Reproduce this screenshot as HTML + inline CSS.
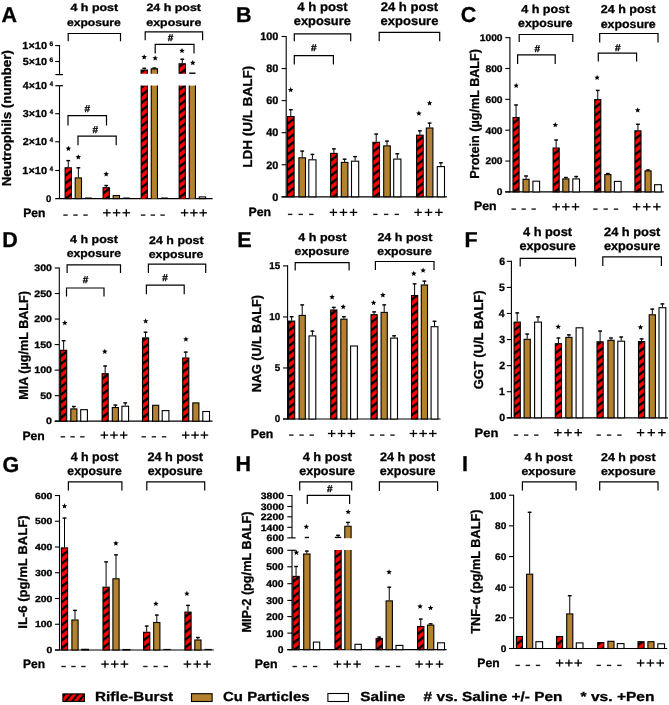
<!DOCTYPE html><html><head><meta charset="utf-8"><style>html,body{margin:0;padding:0;background:#fff;overflow:hidden}svg{display:block;filter:blur(0.4px)}text{font-family:"Liberation Sans",sans-serif;stroke:#000;stroke-width:0.3px;text-rendering:geometricPrecision}</style></head><body><svg width="669" height="705" viewBox="0 0 669 705" font-family="Liberation Sans, sans-serif">
<defs><pattern id="stripe" patternUnits="userSpaceOnUse" width="10" height="6.15" patternTransform="rotate(-37)"><rect width="10" height="6.15" fill="#ff0000"/><rect width="10" height="2.4" fill="#000"/></pattern><pattern id="stripeL" patternUnits="userSpaceOnUse" width="10" height="5.0" patternTransform="rotate(-50)"><rect width="10" height="5" fill="#ff0000"/><rect width="10" height="2.0" fill="#000"/></pattern></defs>
<rect width="669" height="705" fill="#fff"/>
<text x="1.61" y="22.40" font-size="21.5" font-weight="bold">A</text>
<text x="70.46" y="11.30" font-size="10.60" font-weight="bold" textLength="47.74" lengthAdjust="spacingAndGlyphs">4 h post</text>
<text x="66.98" y="25.60" font-size="10.60" font-weight="bold" textLength="53.79" lengthAdjust="spacingAndGlyphs">exposure</text>
<text x="146.42" y="11.30" font-size="10.60" font-weight="bold" textLength="54.58" lengthAdjust="spacingAndGlyphs">24 h post</text>
<text x="146.37" y="25.60" font-size="10.60" font-weight="bold" textLength="54.90" lengthAdjust="spacingAndGlyphs">exposure</text>
<path d="M68.20 41.30V33.50H120.50V41.30" fill="none" stroke="#000" stroke-width="1.2"/>
<path d="M145.20 40.30V31.90H202.60V40.30" fill="none" stroke="#000" stroke-width="1.2"/>
<path d="M155.20 53.40V44.40H194.00V53.40" fill="none" stroke="#000" stroke-width="1.2"/>
<path d="M68.00 125.50V115.70H106.50V125.50" fill="none" stroke="#000" stroke-width="1.2"/>
<path d="M78.00 145.20V136.20H116.20V145.20" fill="none" stroke="#000" stroke-width="1.2"/>
<text x="170.50" y="41.30" font-size="10.0" font-weight="bold" text-anchor="middle">#</text>
<text x="87.20" y="111.70" font-size="10.0" font-weight="bold" text-anchor="middle">#</text>
<text x="95.20" y="132.60" font-size="10.0" font-weight="bold" text-anchor="middle">#</text>
<line x1="59.50" y1="45.10" x2="59.50" y2="74.60" stroke="#000" stroke-width="1.1"/>
<line x1="55.20" y1="45.60" x2="59.50" y2="45.60" stroke="#000" stroke-width="1.1"/>
<line x1="55.20" y1="61.50" x2="59.50" y2="61.50" stroke="#000" stroke-width="1.1"/>
<line x1="55.40" y1="74.60" x2="63.00" y2="74.60" stroke="#000" stroke-width="1.2"/>
<line x1="59.50" y1="85.70" x2="59.50" y2="198.60" stroke="#000" stroke-width="1.1"/>
<line x1="55.40" y1="85.70" x2="63.00" y2="85.70" stroke="#000" stroke-width="1.2"/>
<line x1="55.20" y1="113.70" x2="59.50" y2="113.70" stroke="#000" stroke-width="1.1"/>
<line x1="55.20" y1="141.80" x2="59.50" y2="141.80" stroke="#000" stroke-width="1.1"/>
<line x1="55.20" y1="170.50" x2="59.50" y2="170.50" stroke="#000" stroke-width="1.1"/>
<line x1="55.20" y1="198.60" x2="212.60" y2="198.60" stroke="#000" stroke-width="1.2"/>
<text x="22.36" y="49.00" font-size="10.20" font-weight="bold" textLength="24.64" lengthAdjust="spacingAndGlyphs">1×10</text>
<text x="49.61" y="45.90" font-size="6.60" font-weight="bold" textLength="3.68" lengthAdjust="spacingAndGlyphs">6</text>
<text x="22.72" y="64.90" font-size="10.20" font-weight="bold" textLength="24.27" lengthAdjust="spacingAndGlyphs">5×10</text>
<text x="49.61" y="61.80" font-size="6.60" font-weight="bold" textLength="3.68" lengthAdjust="spacingAndGlyphs">6</text>
<text x="22.89" y="89.10" font-size="10.20" font-weight="bold" textLength="24.10" lengthAdjust="spacingAndGlyphs">4×10</text>
<text x="49.76" y="86.00" font-size="6.60" font-weight="bold" textLength="3.32" lengthAdjust="spacingAndGlyphs">4</text>
<text x="22.80" y="117.10" font-size="10.20" font-weight="bold" textLength="24.19" lengthAdjust="spacingAndGlyphs">3×10</text>
<text x="49.76" y="114.00" font-size="6.60" font-weight="bold" textLength="3.32" lengthAdjust="spacingAndGlyphs">4</text>
<text x="22.68" y="145.20" font-size="10.20" font-weight="bold" textLength="24.32" lengthAdjust="spacingAndGlyphs">2×10</text>
<text x="49.76" y="142.10" font-size="6.60" font-weight="bold" textLength="3.32" lengthAdjust="spacingAndGlyphs">4</text>
<text x="22.36" y="173.90" font-size="10.20" font-weight="bold" textLength="24.64" lengthAdjust="spacingAndGlyphs">1×10</text>
<text x="49.76" y="170.80" font-size="6.60" font-weight="bold" textLength="3.32" lengthAdjust="spacingAndGlyphs">4</text>
<text x="45.90" y="201.80" font-size="9.60" font-weight="bold" textLength="5.34" lengthAdjust="spacingAndGlyphs">0</text>
<text transform="translate(11.09,186.35) rotate(-90)" x="0" y="0" font-size="13.00" font-weight="bold" textLength="136.26" lengthAdjust="spacingAndGlyphs">Neutrophils (number)</text>
<line x1="68.25" y1="160.10" x2="68.25" y2="167.30" stroke="#000" stroke-width="1.0"/>
<line x1="66.35" y1="160.60" x2="70.15" y2="160.60" stroke="#000" stroke-width="1.4"/>
<rect x="65.10" y="167.80" width="6.30" height="30.80" fill="url(#stripe)" stroke="#000" stroke-width="1.1"/>
<line x1="78.35" y1="167.30" x2="78.35" y2="177.40" stroke="#000" stroke-width="1.0"/>
<line x1="76.45" y1="167.80" x2="80.25" y2="167.80" stroke="#000" stroke-width="1.4"/>
<rect x="75.20" y="177.90" width="6.30" height="20.70" fill="#b4822e" stroke="#000" stroke-width="1.1"/>
<line x1="85.10" y1="198.10" x2="91.80" y2="198.10" stroke="#000" stroke-width="1.2"/>
<line x1="106.25" y1="185.00" x2="106.25" y2="187.20" stroke="#000" stroke-width="1.0"/>
<line x1="104.35" y1="185.50" x2="108.15" y2="185.50" stroke="#000" stroke-width="1.4"/>
<rect x="103.10" y="187.70" width="6.30" height="10.90" fill="url(#stripe)" stroke="#000" stroke-width="1.1"/>
<rect x="113.20" y="195.50" width="6.30" height="3.10" fill="#b4822e" stroke="#000" stroke-width="1.1"/>
<line x1="123.10" y1="198.10" x2="129.80" y2="198.10" stroke="#000" stroke-width="1.2"/>
<rect x="141.10" y="85.60" width="6.30" height="113.00" fill="url(#stripe)"/>
<line x1="141.15" y1="85.60" x2="141.15" y2="198.60" stroke="#000" stroke-width="1.1"/>
<line x1="147.35" y1="85.60" x2="147.35" y2="198.60" stroke="#000" stroke-width="1.1"/>
<rect x="151.20" y="85.60" width="6.30" height="113.00" fill="#b4822e"/>
<line x1="151.25" y1="85.60" x2="151.25" y2="198.60" stroke="#000" stroke-width="1.1"/>
<line x1="157.45" y1="85.60" x2="157.45" y2="198.60" stroke="#000" stroke-width="1.1"/>
<rect x="179.10" y="85.60" width="6.30" height="113.00" fill="url(#stripe)"/>
<line x1="179.15" y1="85.60" x2="179.15" y2="198.60" stroke="#000" stroke-width="1.1"/>
<line x1="185.35" y1="85.60" x2="185.35" y2="198.60" stroke="#000" stroke-width="1.1"/>
<rect x="189.20" y="85.60" width="6.30" height="113.00" fill="#b4822e"/>
<line x1="189.25" y1="85.60" x2="189.25" y2="198.60" stroke="#000" stroke-width="1.1"/>
<line x1="195.45" y1="85.60" x2="195.45" y2="198.60" stroke="#000" stroke-width="1.1"/>
<line x1="161.10" y1="198.10" x2="167.80" y2="198.10" stroke="#000" stroke-width="1.2"/>
<rect x="199.30" y="196.90" width="6.30" height="1.70" fill="#fff" stroke="#000" stroke-width="1.1"/>
<line x1="144.25" y1="67.80" x2="144.25" y2="69.60" stroke="#000" stroke-width="1.0"/>
<line x1="142.35" y1="68.30" x2="146.15" y2="68.30" stroke="#000" stroke-width="1.4"/>
<path d="M141.10 73.80V70.10H147.40V73.80" fill="url(#stripe)" stroke="#000" stroke-width="1.1"/>
<line x1="154.35" y1="67.60" x2="154.35" y2="68.40" stroke="#000" stroke-width="1.0"/>
<line x1="152.45" y1="68.10" x2="156.25" y2="68.10" stroke="#000" stroke-width="1.4"/>
<path d="M151.20 73.80V68.90H157.50V73.80" fill="#b4822e" stroke="#000" stroke-width="1.1"/>
<line x1="182.25" y1="58.70" x2="182.25" y2="63.20" stroke="#000" stroke-width="1.0"/>
<line x1="180.35" y1="59.20" x2="184.15" y2="59.20" stroke="#000" stroke-width="1.4"/>
<path d="M179.10 73.80V63.70H185.40V73.80" fill="url(#stripe)" stroke="#000" stroke-width="1.1"/>
<line x1="189.20" y1="73.20" x2="195.50" y2="73.20" stroke="#000" stroke-width="1.4"/>
<polygon points="68.40,145.70 69.17,147.54 71.16,147.70 69.64,149.00 70.10,150.95 68.40,149.91 66.70,150.95 67.16,149.00 65.64,147.70 67.63,147.54" fill="#000"/>
<polygon points="78.30,154.20 79.07,156.04 81.06,156.20 79.54,157.50 80.00,159.45 78.30,158.41 76.60,159.45 77.06,157.50 75.54,156.20 77.53,156.04" fill="#000"/>
<polygon points="106.20,171.20 106.97,173.04 108.96,173.20 107.44,174.50 107.90,176.45 106.20,175.41 104.50,176.45 104.96,174.50 103.44,173.20 105.43,173.04" fill="#000"/>
<polygon points="144.20,54.20 144.97,56.04 146.96,56.20 145.44,57.50 145.90,59.45 144.20,58.41 142.50,59.45 142.96,57.50 141.44,56.20 143.43,56.04" fill="#000"/>
<polygon points="155.20,55.30 155.97,57.14 157.96,57.30 156.44,58.60 156.90,60.55 155.20,59.51 153.50,60.55 153.96,58.60 152.44,57.30 154.43,57.14" fill="#000"/>
<polygon points="182.00,47.90 182.77,49.74 184.76,49.90 183.24,51.20 183.70,53.15 182.00,52.10 180.30,53.15 180.76,51.20 179.24,49.90 181.23,49.74" fill="#000"/>
<polygon points="192.80,60.00 193.57,61.84 195.56,62.00 194.04,63.30 194.50,65.25 192.80,64.20 191.10,65.25 191.56,63.30 190.04,62.00 192.03,61.84" fill="#000"/>
<text x="23.24" y="216.60" font-size="12.20" font-weight="bold" textLength="22.16" lengthAdjust="spacingAndGlyphs">Pen</text>
<line x1="63.30" y1="215.10" x2="67.70" y2="215.10" stroke="#1a1a1a" stroke-width="1.4"/>
<line x1="73.30" y1="215.10" x2="77.70" y2="215.10" stroke="#1a1a1a" stroke-width="1.4"/>
<line x1="83.30" y1="215.10" x2="87.70" y2="215.10" stroke="#1a1a1a" stroke-width="1.4"/>
<line x1="103.10" y1="212.80" x2="110.70" y2="212.80" stroke="#000" stroke-width="1.35"/>
<line x1="106.90" y1="209.20" x2="106.90" y2="216.40" stroke="#000" stroke-width="1.35"/>
<line x1="112.80" y1="212.80" x2="120.40" y2="212.80" stroke="#000" stroke-width="1.35"/>
<line x1="116.60" y1="209.20" x2="116.60" y2="216.40" stroke="#000" stroke-width="1.35"/>
<line x1="122.50" y1="212.80" x2="130.10" y2="212.80" stroke="#000" stroke-width="1.35"/>
<line x1="126.30" y1="209.20" x2="126.30" y2="216.40" stroke="#000" stroke-width="1.35"/>
<line x1="140.90" y1="215.10" x2="145.30" y2="215.10" stroke="#1a1a1a" stroke-width="1.4"/>
<line x1="150.65" y1="215.10" x2="155.05" y2="215.10" stroke="#1a1a1a" stroke-width="1.4"/>
<line x1="160.40" y1="215.10" x2="164.80" y2="215.10" stroke="#1a1a1a" stroke-width="1.4"/>
<line x1="180.80" y1="212.80" x2="188.40" y2="212.80" stroke="#000" stroke-width="1.35"/>
<line x1="184.60" y1="209.20" x2="184.60" y2="216.40" stroke="#000" stroke-width="1.35"/>
<line x1="190.10" y1="212.80" x2="197.70" y2="212.80" stroke="#000" stroke-width="1.35"/>
<line x1="193.90" y1="209.20" x2="193.90" y2="216.40" stroke="#000" stroke-width="1.35"/>
<line x1="199.40" y1="212.80" x2="207.00" y2="212.80" stroke="#000" stroke-width="1.35"/>
<line x1="203.20" y1="209.20" x2="203.20" y2="216.40" stroke="#000" stroke-width="1.35"/>
<text x="236.11" y="22.40" font-size="21.5" font-weight="bold">B</text>
<text x="297.25" y="10.50" font-size="12.40" font-weight="bold" textLength="50.36" lengthAdjust="spacingAndGlyphs">4 h post</text>
<text x="293.85" y="25.30" font-size="12.40" font-weight="bold" textLength="56.94" lengthAdjust="spacingAndGlyphs">exposure</text>
<text x="380.70" y="10.50" font-size="12.40" font-weight="bold" textLength="57.41" lengthAdjust="spacingAndGlyphs">24 h post</text>
<text x="380.64" y="25.30" font-size="12.40" font-weight="bold" textLength="57.75" lengthAdjust="spacingAndGlyphs">exposure</text>
<path d="M294.30 41.30V33.90H350.70V41.30" fill="none" stroke="#000" stroke-width="1.2"/>
<path d="M379.20 41.30V32.40H439.70V41.30" fill="none" stroke="#000" stroke-width="1.2"/>
<path d="M294.30 64.50V55.60H333.40V64.50" fill="none" stroke="#000" stroke-width="1.2"/>
<text x="313.80" y="51.20" font-size="10.0" font-weight="bold" text-anchor="middle">#</text>
<line x1="286.20" y1="35.95" x2="286.20" y2="197.30" stroke="#000" stroke-width="1.1"/>
<line x1="281.60" y1="36.50" x2="286.20" y2="36.50" stroke="#000" stroke-width="1.1"/>
<text x="260.21" y="40.30" font-size="10.90" font-weight="bold" textLength="18.19" lengthAdjust="spacingAndGlyphs">100</text>
<line x1="281.60" y1="68.56" x2="286.20" y2="68.56" stroke="#000" stroke-width="1.1"/>
<text x="266.27" y="72.36" font-size="10.90" font-weight="bold" textLength="12.12" lengthAdjust="spacingAndGlyphs">80</text>
<line x1="281.60" y1="100.62" x2="286.20" y2="100.62" stroke="#000" stroke-width="1.1"/>
<text x="266.27" y="104.42" font-size="10.90" font-weight="bold" textLength="12.12" lengthAdjust="spacingAndGlyphs">60</text>
<line x1="281.60" y1="132.68" x2="286.20" y2="132.68" stroke="#000" stroke-width="1.1"/>
<text x="266.27" y="136.48" font-size="10.90" font-weight="bold" textLength="12.12" lengthAdjust="spacingAndGlyphs">40</text>
<line x1="281.60" y1="164.74" x2="286.20" y2="164.74" stroke="#000" stroke-width="1.1"/>
<text x="266.27" y="168.54" font-size="10.90" font-weight="bold" textLength="12.12" lengthAdjust="spacingAndGlyphs">20</text>
<line x1="281.60" y1="196.80" x2="286.20" y2="196.80" stroke="#000" stroke-width="1.1"/>
<text x="272.34" y="200.60" font-size="10.90" font-weight="bold" textLength="6.06" lengthAdjust="spacingAndGlyphs">0</text>
<line x1="281.60" y1="196.80" x2="446.90" y2="196.80" stroke="#000" stroke-width="1.2"/>
<text transform="translate(252.29,167.85) rotate(-90)" x="0" y="0" font-size="13.00" font-weight="bold" textLength="102.08" lengthAdjust="spacingAndGlyphs">LDH (U/L BALF)</text>
<line x1="290.80" y1="109.20" x2="290.80" y2="116.10" stroke="#000" stroke-width="1.0"/>
<line x1="288.90" y1="109.70" x2="292.70" y2="109.70" stroke="#000" stroke-width="1.4"/>
<rect x="287.50" y="116.60" width="6.60" height="80.20" fill="url(#stripe)" stroke="#000" stroke-width="1.1"/>
<line x1="302.20" y1="150.60" x2="302.20" y2="157.30" stroke="#000" stroke-width="1.0"/>
<line x1="300.30" y1="151.10" x2="304.10" y2="151.10" stroke="#000" stroke-width="1.4"/>
<rect x="298.90" y="157.80" width="6.60" height="39.00" fill="#b4822e" stroke="#000" stroke-width="1.1"/>
<line x1="312.40" y1="153.90" x2="312.40" y2="159.30" stroke="#000" stroke-width="1.0"/>
<line x1="310.50" y1="154.40" x2="314.30" y2="154.40" stroke="#000" stroke-width="1.4"/>
<rect x="308.80" y="159.80" width="7.20" height="37.00" fill="#fff" stroke="#000" stroke-width="1.1"/>
<line x1="333.90" y1="148.40" x2="333.90" y2="152.90" stroke="#000" stroke-width="1.0"/>
<line x1="332.00" y1="148.90" x2="335.80" y2="148.90" stroke="#000" stroke-width="1.4"/>
<rect x="330.60" y="153.40" width="6.60" height="43.40" fill="url(#stripe)" stroke="#000" stroke-width="1.1"/>
<line x1="344.60" y1="158.70" x2="344.60" y2="161.90" stroke="#000" stroke-width="1.0"/>
<line x1="342.70" y1="159.20" x2="346.50" y2="159.20" stroke="#000" stroke-width="1.4"/>
<rect x="341.30" y="162.40" width="6.60" height="34.40" fill="#b4822e" stroke="#000" stroke-width="1.1"/>
<line x1="355.10" y1="156.10" x2="355.10" y2="160.70" stroke="#000" stroke-width="1.0"/>
<line x1="353.20" y1="156.60" x2="357.00" y2="156.60" stroke="#000" stroke-width="1.4"/>
<rect x="351.50" y="161.20" width="7.20" height="35.60" fill="#fff" stroke="#000" stroke-width="1.1"/>
<line x1="376.20" y1="133.60" x2="376.20" y2="141.80" stroke="#000" stroke-width="1.0"/>
<line x1="374.30" y1="134.10" x2="378.10" y2="134.10" stroke="#000" stroke-width="1.4"/>
<rect x="372.90" y="142.30" width="6.60" height="54.50" fill="url(#stripe)" stroke="#000" stroke-width="1.1"/>
<line x1="387.00" y1="140.60" x2="387.00" y2="145.40" stroke="#000" stroke-width="1.0"/>
<line x1="385.10" y1="141.10" x2="388.90" y2="141.10" stroke="#000" stroke-width="1.4"/>
<rect x="383.70" y="145.90" width="6.60" height="50.90" fill="#b4822e" stroke="#000" stroke-width="1.1"/>
<line x1="397.30" y1="153.30" x2="397.30" y2="158.60" stroke="#000" stroke-width="1.0"/>
<line x1="395.40" y1="153.80" x2="399.20" y2="153.80" stroke="#000" stroke-width="1.4"/>
<rect x="393.70" y="159.10" width="7.20" height="37.70" fill="#fff" stroke="#000" stroke-width="1.1"/>
<line x1="419.90" y1="130.30" x2="419.90" y2="134.70" stroke="#000" stroke-width="1.0"/>
<line x1="418.00" y1="130.80" x2="421.80" y2="130.80" stroke="#000" stroke-width="1.4"/>
<rect x="416.60" y="135.20" width="6.60" height="61.60" fill="url(#stripe)" stroke="#000" stroke-width="1.1"/>
<line x1="429.60" y1="122.60" x2="429.60" y2="127.50" stroke="#000" stroke-width="1.0"/>
<line x1="427.70" y1="123.10" x2="431.50" y2="123.10" stroke="#000" stroke-width="1.4"/>
<rect x="426.30" y="128.00" width="6.60" height="68.80" fill="#b4822e" stroke="#000" stroke-width="1.1"/>
<line x1="440.90" y1="162.30" x2="440.90" y2="166.10" stroke="#000" stroke-width="1.0"/>
<line x1="439.00" y1="162.80" x2="442.80" y2="162.80" stroke="#000" stroke-width="1.4"/>
<rect x="437.30" y="166.60" width="7.20" height="30.20" fill="#fff" stroke="#000" stroke-width="1.1"/>
<polygon points="290.70,87.10 291.47,88.94 293.46,89.10 291.94,90.40 292.40,92.35 290.70,91.31 289.00,92.35 289.46,90.40 287.94,89.10 289.93,88.94" fill="#000"/>
<polygon points="418.90,110.60 419.67,112.44 421.66,112.60 420.14,113.90 420.60,115.85 418.90,114.81 417.20,115.85 417.66,113.90 416.14,112.60 418.13,112.44" fill="#000"/>
<polygon points="429.60,100.30 430.37,102.14 432.36,102.30 430.84,103.60 431.30,105.55 429.60,104.51 427.90,105.55 428.36,103.60 426.84,102.30 428.83,102.14" fill="#000"/>
<text x="248.43" y="215.60" font-size="12.20" font-weight="bold" textLength="22.59" lengthAdjust="spacingAndGlyphs">Pen</text>
<line x1="287.90" y1="214.40" x2="292.30" y2="214.40" stroke="#1a1a1a" stroke-width="1.4"/>
<line x1="298.50" y1="214.40" x2="302.90" y2="214.40" stroke="#1a1a1a" stroke-width="1.4"/>
<line x1="309.10" y1="214.40" x2="313.50" y2="214.40" stroke="#1a1a1a" stroke-width="1.4"/>
<line x1="329.60" y1="212.40" x2="337.20" y2="212.40" stroke="#000" stroke-width="1.35"/>
<line x1="333.40" y1="208.80" x2="333.40" y2="216.00" stroke="#000" stroke-width="1.35"/>
<line x1="339.65" y1="212.40" x2="347.25" y2="212.40" stroke="#000" stroke-width="1.35"/>
<line x1="343.45" y1="208.80" x2="343.45" y2="216.00" stroke="#000" stroke-width="1.35"/>
<line x1="349.70" y1="212.40" x2="357.30" y2="212.40" stroke="#000" stroke-width="1.35"/>
<line x1="353.50" y1="208.80" x2="353.50" y2="216.00" stroke="#000" stroke-width="1.35"/>
<line x1="373.20" y1="214.40" x2="377.60" y2="214.40" stroke="#1a1a1a" stroke-width="1.4"/>
<line x1="383.90" y1="214.40" x2="388.30" y2="214.40" stroke="#1a1a1a" stroke-width="1.4"/>
<line x1="394.60" y1="214.40" x2="399.00" y2="214.40" stroke="#1a1a1a" stroke-width="1.4"/>
<line x1="414.30" y1="212.40" x2="421.90" y2="212.40" stroke="#000" stroke-width="1.35"/>
<line x1="418.10" y1="208.80" x2="418.10" y2="216.00" stroke="#000" stroke-width="1.35"/>
<line x1="424.70" y1="212.40" x2="432.30" y2="212.40" stroke="#000" stroke-width="1.35"/>
<line x1="428.50" y1="208.80" x2="428.50" y2="216.00" stroke="#000" stroke-width="1.35"/>
<line x1="435.10" y1="212.40" x2="442.70" y2="212.40" stroke="#000" stroke-width="1.35"/>
<line x1="438.90" y1="208.80" x2="438.90" y2="216.00" stroke="#000" stroke-width="1.35"/>
<text x="460.77" y="22.40" font-size="21.5" font-weight="bold">C</text>
<text x="521.16" y="13.10" font-size="11.60" font-weight="bold" textLength="48.24" lengthAdjust="spacingAndGlyphs">4 h post</text>
<text x="518.07" y="27.40" font-size="11.60" font-weight="bold" textLength="54.60" lengthAdjust="spacingAndGlyphs">exposure</text>
<text x="600.72" y="13.40" font-size="11.60" font-weight="bold" textLength="54.99" lengthAdjust="spacingAndGlyphs">24 h post</text>
<text x="600.67" y="27.70" font-size="11.60" font-weight="bold" textLength="55.11" lengthAdjust="spacingAndGlyphs">exposure</text>
<path d="M519.20 41.90V34.50H572.80V41.90" fill="none" stroke="#000" stroke-width="1.2"/>
<path d="M599.70 42.40V33.50H658.00V42.40" fill="none" stroke="#000" stroke-width="1.2"/>
<path d="M517.60 63.90V54.80H555.20V63.90" fill="none" stroke="#000" stroke-width="1.2"/>
<path d="M598.30 61.50V53.10H636.60V61.50" fill="none" stroke="#000" stroke-width="1.2"/>
<text x="537.30" y="51.70" font-size="10.0" font-weight="bold" text-anchor="middle">#</text>
<text x="617.90" y="50.50" font-size="10.0" font-weight="bold" text-anchor="middle">#</text>
<line x1="509.90" y1="37.10" x2="509.90" y2="192.40" stroke="#000" stroke-width="1.1"/>
<line x1="505.30" y1="37.65" x2="509.90" y2="37.65" stroke="#000" stroke-width="1.1"/>
<text x="479.72" y="41.00" font-size="9.60" font-weight="bold" textLength="22.85" lengthAdjust="spacingAndGlyphs">1000</text>
<line x1="505.30" y1="68.50" x2="509.90" y2="68.50" stroke="#000" stroke-width="1.1"/>
<text x="485.43" y="71.85" font-size="9.60" font-weight="bold" textLength="17.14" lengthAdjust="spacingAndGlyphs">800</text>
<line x1="505.30" y1="99.35" x2="509.90" y2="99.35" stroke="#000" stroke-width="1.1"/>
<text x="485.43" y="102.70" font-size="9.60" font-weight="bold" textLength="17.14" lengthAdjust="spacingAndGlyphs">600</text>
<line x1="505.30" y1="130.20" x2="509.90" y2="130.20" stroke="#000" stroke-width="1.1"/>
<text x="485.43" y="133.55" font-size="9.60" font-weight="bold" textLength="17.14" lengthAdjust="spacingAndGlyphs">400</text>
<line x1="505.30" y1="161.05" x2="509.90" y2="161.05" stroke="#000" stroke-width="1.1"/>
<text x="485.43" y="164.40" font-size="9.60" font-weight="bold" textLength="17.14" lengthAdjust="spacingAndGlyphs">200</text>
<line x1="505.30" y1="191.90" x2="509.90" y2="191.90" stroke="#000" stroke-width="1.1"/>
<text x="496.86" y="195.25" font-size="9.60" font-weight="bold" textLength="5.71" lengthAdjust="spacingAndGlyphs">0</text>
<line x1="505.30" y1="191.90" x2="663.80" y2="191.90" stroke="#000" stroke-width="1.2"/>
<text transform="translate(479.19,178.69) rotate(-90)" x="0" y="0" font-size="13.00" font-weight="bold" textLength="129.67" lengthAdjust="spacingAndGlyphs">Protein (µg/mL BALF)</text>
<line x1="516.05" y1="104.50" x2="516.05" y2="117.00" stroke="#000" stroke-width="1.0"/>
<line x1="514.15" y1="105.00" x2="517.95" y2="105.00" stroke="#000" stroke-width="1.4"/>
<rect x="513.00" y="117.50" width="6.10" height="74.40" fill="url(#stripe)" stroke="#000" stroke-width="1.1"/>
<line x1="526.05" y1="175.50" x2="526.05" y2="178.80" stroke="#000" stroke-width="1.0"/>
<line x1="524.15" y1="176.00" x2="527.95" y2="176.00" stroke="#000" stroke-width="1.4"/>
<rect x="523.00" y="179.30" width="6.10" height="12.60" fill="#b4822e" stroke="#000" stroke-width="1.1"/>
<rect x="532.90" y="181.20" width="6.70" height="10.70" fill="#fff" stroke="#000" stroke-width="1.1"/>
<line x1="556.15" y1="139.50" x2="556.15" y2="147.50" stroke="#000" stroke-width="1.0"/>
<line x1="554.25" y1="140.00" x2="558.05" y2="140.00" stroke="#000" stroke-width="1.4"/>
<rect x="553.10" y="148.00" width="6.10" height="43.90" fill="url(#stripe)" stroke="#000" stroke-width="1.1"/>
<line x1="565.85" y1="177.00" x2="565.85" y2="178.40" stroke="#000" stroke-width="1.0"/>
<line x1="563.95" y1="177.50" x2="567.75" y2="177.50" stroke="#000" stroke-width="1.4"/>
<rect x="562.80" y="178.90" width="6.10" height="13.00" fill="#b4822e" stroke="#000" stroke-width="1.1"/>
<line x1="576.15" y1="176.00" x2="576.15" y2="178.40" stroke="#000" stroke-width="1.0"/>
<line x1="574.25" y1="176.50" x2="578.05" y2="176.50" stroke="#000" stroke-width="1.4"/>
<rect x="572.80" y="178.90" width="6.70" height="13.00" fill="#fff" stroke="#000" stroke-width="1.1"/>
<line x1="597.75" y1="89.90" x2="597.75" y2="99.10" stroke="#000" stroke-width="1.0"/>
<line x1="595.85" y1="90.40" x2="599.65" y2="90.40" stroke="#000" stroke-width="1.4"/>
<rect x="594.70" y="99.60" width="6.10" height="92.30" fill="url(#stripe)" stroke="#000" stroke-width="1.1"/>
<line x1="607.85" y1="173.00" x2="607.85" y2="174.10" stroke="#000" stroke-width="1.0"/>
<line x1="605.95" y1="173.50" x2="609.75" y2="173.50" stroke="#000" stroke-width="1.4"/>
<rect x="604.80" y="174.60" width="6.10" height="17.30" fill="#b4822e" stroke="#000" stroke-width="1.1"/>
<rect x="614.40" y="181.40" width="6.70" height="10.50" fill="#fff" stroke="#000" stroke-width="1.1"/>
<line x1="637.95" y1="123.80" x2="637.95" y2="130.30" stroke="#000" stroke-width="1.0"/>
<line x1="636.05" y1="124.30" x2="639.85" y2="124.30" stroke="#000" stroke-width="1.4"/>
<rect x="634.90" y="130.80" width="6.10" height="61.10" fill="url(#stripe)" stroke="#000" stroke-width="1.1"/>
<line x1="648.05" y1="169.50" x2="648.05" y2="170.40" stroke="#000" stroke-width="1.0"/>
<line x1="646.15" y1="170.00" x2="649.95" y2="170.00" stroke="#000" stroke-width="1.4"/>
<rect x="645.00" y="170.90" width="6.10" height="21.00" fill="#b4822e" stroke="#000" stroke-width="1.1"/>
<rect x="654.60" y="184.70" width="6.70" height="7.20" fill="#fff" stroke="#000" stroke-width="1.1"/>
<polygon points="516.20,82.80 516.97,84.64 518.96,84.80 517.44,86.10 517.90,88.05 516.20,87.01 514.50,88.05 514.96,86.10 513.44,84.80 515.43,84.64" fill="#000"/>
<polygon points="555.30,122.10 556.07,123.94 558.06,124.10 556.54,125.40 557.00,127.35 555.30,126.31 553.60,127.35 554.06,125.40 552.54,124.10 554.53,123.94" fill="#000"/>
<polygon points="597.10,74.80 597.87,76.64 599.86,76.80 598.34,78.10 598.80,80.05 597.10,79.01 595.40,80.05 595.86,78.10 594.34,76.80 596.33,76.64" fill="#000"/>
<polygon points="637.70,107.30 638.47,109.14 640.46,109.30 638.94,110.60 639.40,112.55 637.70,111.51 636.00,112.55 636.46,110.60 634.94,109.30 636.93,109.14" fill="#000"/>
<text x="474.03" y="210.10" font-size="12.20" font-weight="bold" textLength="22.59" lengthAdjust="spacingAndGlyphs">Pen</text>
<line x1="511.50" y1="209.10" x2="515.90" y2="209.10" stroke="#1a1a1a" stroke-width="1.4"/>
<line x1="521.50" y1="209.10" x2="525.90" y2="209.10" stroke="#1a1a1a" stroke-width="1.4"/>
<line x1="531.50" y1="209.10" x2="535.90" y2="209.10" stroke="#1a1a1a" stroke-width="1.4"/>
<line x1="552.40" y1="206.80" x2="560.00" y2="206.80" stroke="#000" stroke-width="1.35"/>
<line x1="556.20" y1="203.20" x2="556.20" y2="210.40" stroke="#000" stroke-width="1.35"/>
<line x1="562.05" y1="206.80" x2="569.65" y2="206.80" stroke="#000" stroke-width="1.35"/>
<line x1="565.85" y1="203.20" x2="565.85" y2="210.40" stroke="#000" stroke-width="1.35"/>
<line x1="571.70" y1="206.80" x2="579.30" y2="206.80" stroke="#000" stroke-width="1.35"/>
<line x1="575.50" y1="203.20" x2="575.50" y2="210.40" stroke="#000" stroke-width="1.35"/>
<line x1="593.20" y1="209.10" x2="597.60" y2="209.10" stroke="#1a1a1a" stroke-width="1.4"/>
<line x1="603.50" y1="209.10" x2="607.90" y2="209.10" stroke="#1a1a1a" stroke-width="1.4"/>
<line x1="613.80" y1="209.10" x2="618.20" y2="209.10" stroke="#1a1a1a" stroke-width="1.4"/>
<line x1="632.80" y1="206.80" x2="640.40" y2="206.80" stroke="#000" stroke-width="1.35"/>
<line x1="636.60" y1="203.20" x2="636.60" y2="210.40" stroke="#000" stroke-width="1.35"/>
<line x1="642.95" y1="206.80" x2="650.55" y2="206.80" stroke="#000" stroke-width="1.35"/>
<line x1="646.75" y1="203.20" x2="646.75" y2="210.40" stroke="#000" stroke-width="1.35"/>
<line x1="653.10" y1="206.80" x2="660.70" y2="206.80" stroke="#000" stroke-width="1.35"/>
<line x1="656.90" y1="203.20" x2="656.90" y2="210.40" stroke="#000" stroke-width="1.35"/>
<text x="2.21" y="247.30" font-size="21.5" font-weight="bold">D</text>
<text x="70.06" y="242.90" font-size="11.20" font-weight="bold" textLength="47.84" lengthAdjust="spacingAndGlyphs">4 h post</text>
<text x="66.67" y="257.10" font-size="11.20" font-weight="bold" textLength="54.29" lengthAdjust="spacingAndGlyphs">exposure</text>
<text x="149.12" y="243.70" font-size="11.20" font-weight="bold" textLength="54.48" lengthAdjust="spacingAndGlyphs">24 h post</text>
<text x="148.77" y="257.50" font-size="11.20" font-weight="bold" textLength="54.60" lengthAdjust="spacingAndGlyphs">exposure</text>
<path d="M67.10 273.00V264.80H120.50V273.00" fill="none" stroke="#000" stroke-width="1.2"/>
<path d="M148.40 273.00V264.10H205.70V273.00" fill="none" stroke="#000" stroke-width="1.2"/>
<path d="M66.50 296.40V288.00H104.00V296.40" fill="none" stroke="#000" stroke-width="1.2"/>
<path d="M146.40 294.20V285.10H184.20V294.20" fill="none" stroke="#000" stroke-width="1.2"/>
<text x="85.60" y="283.00" font-size="10.0" font-weight="bold" text-anchor="middle">#</text>
<text x="165.00" y="281.40" font-size="10.0" font-weight="bold" text-anchor="middle">#</text>
<line x1="59.30" y1="267.44" x2="59.30" y2="421.70" stroke="#000" stroke-width="1.1"/>
<line x1="54.70" y1="267.99" x2="59.30" y2="267.99" stroke="#000" stroke-width="1.1"/>
<text x="34.30" y="271.24" font-size="9.30" font-weight="bold" textLength="17.69" lengthAdjust="spacingAndGlyphs">300</text>
<line x1="54.70" y1="293.52" x2="59.30" y2="293.52" stroke="#000" stroke-width="1.1"/>
<text x="34.30" y="296.77" font-size="9.30" font-weight="bold" textLength="17.69" lengthAdjust="spacingAndGlyphs">250</text>
<line x1="54.70" y1="319.06" x2="59.30" y2="319.06" stroke="#000" stroke-width="1.1"/>
<text x="34.30" y="322.31" font-size="9.30" font-weight="bold" textLength="17.69" lengthAdjust="spacingAndGlyphs">200</text>
<line x1="54.70" y1="344.59" x2="59.30" y2="344.59" stroke="#000" stroke-width="1.1"/>
<text x="34.30" y="347.84" font-size="9.30" font-weight="bold" textLength="17.69" lengthAdjust="spacingAndGlyphs">150</text>
<line x1="54.70" y1="370.13" x2="59.30" y2="370.13" stroke="#000" stroke-width="1.1"/>
<text x="34.30" y="373.38" font-size="9.30" font-weight="bold" textLength="17.69" lengthAdjust="spacingAndGlyphs">100</text>
<line x1="54.70" y1="395.66" x2="59.30" y2="395.66" stroke="#000" stroke-width="1.1"/>
<text x="40.19" y="398.91" font-size="9.30" font-weight="bold" textLength="11.79" lengthAdjust="spacingAndGlyphs">50</text>
<line x1="54.70" y1="421.20" x2="59.30" y2="421.20" stroke="#000" stroke-width="1.1"/>
<text x="46.09" y="424.45" font-size="9.30" font-weight="bold" textLength="5.90" lengthAdjust="spacingAndGlyphs">0</text>
<line x1="54.70" y1="421.20" x2="212.60" y2="421.20" stroke="#000" stroke-width="1.2"/>
<text transform="translate(28.49,399.79) rotate(-90)" x="0" y="0" font-size="13.00" font-weight="bold" textLength="108.76" lengthAdjust="spacingAndGlyphs">MIA (µg/mL BALF)</text>
<line x1="63.65" y1="340.20" x2="63.65" y2="349.80" stroke="#000" stroke-width="1.0"/>
<line x1="61.75" y1="340.70" x2="65.55" y2="340.70" stroke="#000" stroke-width="1.4"/>
<rect x="60.60" y="350.30" width="6.10" height="70.90" fill="url(#stripe)" stroke="#000" stroke-width="1.1"/>
<line x1="73.85" y1="406.00" x2="73.85" y2="408.40" stroke="#000" stroke-width="1.0"/>
<line x1="71.95" y1="406.50" x2="75.75" y2="406.50" stroke="#000" stroke-width="1.4"/>
<rect x="70.80" y="408.90" width="6.10" height="12.30" fill="#b4822e" stroke="#000" stroke-width="1.1"/>
<rect x="80.70" y="409.70" width="6.70" height="11.50" fill="#fff" stroke="#000" stroke-width="1.1"/>
<line x1="105.15" y1="365.50" x2="105.15" y2="373.20" stroke="#000" stroke-width="1.0"/>
<line x1="103.25" y1="366.00" x2="107.05" y2="366.00" stroke="#000" stroke-width="1.4"/>
<rect x="102.10" y="373.70" width="6.10" height="47.50" fill="url(#stripe)" stroke="#000" stroke-width="1.1"/>
<line x1="115.35" y1="404.60" x2="115.35" y2="407.00" stroke="#000" stroke-width="1.0"/>
<line x1="113.45" y1="405.10" x2="117.25" y2="405.10" stroke="#000" stroke-width="1.4"/>
<rect x="112.30" y="407.50" width="6.10" height="13.70" fill="#b4822e" stroke="#000" stroke-width="1.1"/>
<line x1="125.25" y1="402.40" x2="125.25" y2="405.70" stroke="#000" stroke-width="1.0"/>
<line x1="123.35" y1="402.90" x2="127.15" y2="402.90" stroke="#000" stroke-width="1.4"/>
<rect x="121.90" y="406.20" width="6.70" height="15.00" fill="#fff" stroke="#000" stroke-width="1.1"/>
<line x1="145.55" y1="331.70" x2="145.55" y2="337.40" stroke="#000" stroke-width="1.0"/>
<line x1="143.65" y1="332.20" x2="147.45" y2="332.20" stroke="#000" stroke-width="1.4"/>
<rect x="142.50" y="337.90" width="6.10" height="83.30" fill="url(#stripe)" stroke="#000" stroke-width="1.1"/>
<rect x="152.60" y="405.30" width="6.10" height="15.90" fill="#b4822e" stroke="#000" stroke-width="1.1"/>
<rect x="162.20" y="410.60" width="6.70" height="10.60" fill="#fff" stroke="#000" stroke-width="1.1"/>
<line x1="185.75" y1="351.60" x2="185.75" y2="357.50" stroke="#000" stroke-width="1.0"/>
<line x1="183.85" y1="352.10" x2="187.65" y2="352.10" stroke="#000" stroke-width="1.4"/>
<rect x="182.70" y="358.00" width="6.10" height="63.20" fill="url(#stripe)" stroke="#000" stroke-width="1.1"/>
<rect x="192.80" y="402.90" width="6.10" height="18.30" fill="#b4822e" stroke="#000" stroke-width="1.1"/>
<rect x="202.80" y="411.50" width="6.70" height="9.70" fill="#fff" stroke="#000" stroke-width="1.1"/>
<polygon points="64.80,320.10 65.57,321.94 67.56,322.10 66.04,323.40 66.50,325.35 64.80,324.31 63.10,325.35 63.56,323.40 62.04,322.10 64.03,321.94" fill="#000"/>
<polygon points="104.80,348.70 105.57,350.54 107.56,350.70 106.04,352.00 106.50,353.95 104.80,352.91 103.10,353.95 103.56,352.00 102.04,350.70 104.03,350.54" fill="#000"/>
<polygon points="145.70,318.30 146.47,320.14 148.46,320.30 146.94,321.60 147.40,323.55 145.70,322.50 144.00,323.55 144.46,321.60 142.94,320.30 144.93,320.14" fill="#000"/>
<polygon points="185.90,336.40 186.67,338.24 188.66,338.40 187.14,339.70 187.60,341.65 185.90,340.61 184.20,341.65 184.66,339.70 183.14,338.40 185.13,338.24" fill="#000"/>
<text x="22.43" y="439.50" font-size="12.20" font-weight="bold" textLength="22.37" lengthAdjust="spacingAndGlyphs">Pen</text>
<line x1="60.70" y1="436.80" x2="65.10" y2="436.80" stroke="#1a1a1a" stroke-width="1.4"/>
<line x1="70.45" y1="436.80" x2="74.85" y2="436.80" stroke="#1a1a1a" stroke-width="1.4"/>
<line x1="80.20" y1="436.80" x2="84.60" y2="436.80" stroke="#1a1a1a" stroke-width="1.4"/>
<line x1="100.50" y1="435.10" x2="108.10" y2="435.10" stroke="#000" stroke-width="1.35"/>
<line x1="104.30" y1="431.50" x2="104.30" y2="438.70" stroke="#000" stroke-width="1.35"/>
<line x1="110.20" y1="435.10" x2="117.80" y2="435.10" stroke="#000" stroke-width="1.35"/>
<line x1="114.00" y1="431.50" x2="114.00" y2="438.70" stroke="#000" stroke-width="1.35"/>
<line x1="119.90" y1="435.10" x2="127.50" y2="435.10" stroke="#000" stroke-width="1.35"/>
<line x1="123.70" y1="431.50" x2="123.70" y2="438.70" stroke="#000" stroke-width="1.35"/>
<line x1="141.50" y1="436.80" x2="145.90" y2="436.80" stroke="#1a1a1a" stroke-width="1.4"/>
<line x1="151.70" y1="436.80" x2="156.10" y2="436.80" stroke="#1a1a1a" stroke-width="1.4"/>
<line x1="161.90" y1="436.80" x2="166.30" y2="436.80" stroke="#1a1a1a" stroke-width="1.4"/>
<line x1="181.90" y1="435.10" x2="189.50" y2="435.10" stroke="#000" stroke-width="1.35"/>
<line x1="185.70" y1="431.50" x2="185.70" y2="438.70" stroke="#000" stroke-width="1.35"/>
<line x1="191.25" y1="435.10" x2="198.85" y2="435.10" stroke="#000" stroke-width="1.35"/>
<line x1="195.05" y1="431.50" x2="195.05" y2="438.70" stroke="#000" stroke-width="1.35"/>
<line x1="200.60" y1="435.10" x2="208.20" y2="435.10" stroke="#000" stroke-width="1.35"/>
<line x1="204.40" y1="431.50" x2="204.40" y2="438.70" stroke="#000" stroke-width="1.35"/>
<text x="237.21" y="247.30" font-size="21.5" font-weight="bold">E</text>
<text x="298.36" y="240.80" font-size="11.20" font-weight="bold" textLength="47.94" lengthAdjust="spacingAndGlyphs">4 h post</text>
<text x="294.57" y="255.20" font-size="11.20" font-weight="bold" textLength="54.60" lengthAdjust="spacingAndGlyphs">exposure</text>
<text x="377.42" y="241.40" font-size="11.30" font-weight="bold" textLength="54.99" lengthAdjust="spacingAndGlyphs">24 h post</text>
<text x="377.37" y="255.40" font-size="11.30" font-weight="bold" textLength="54.60" lengthAdjust="spacingAndGlyphs">exposure</text>
<path d="M295.20 270.60V262.60H349.10V270.60" fill="none" stroke="#000" stroke-width="1.2"/>
<path d="M375.40 269.90V261.50H434.00V269.90" fill="none" stroke="#000" stroke-width="1.2"/>
<line x1="287.60" y1="265.34" x2="287.60" y2="419.50" stroke="#000" stroke-width="1.1"/>
<line x1="283.00" y1="265.89" x2="287.60" y2="265.89" stroke="#000" stroke-width="1.1"/>
<text x="269.22" y="269.38" font-size="10.00" font-weight="bold" textLength="10.90" lengthAdjust="spacingAndGlyphs">15</text>
<line x1="283.00" y1="316.93" x2="287.60" y2="316.93" stroke="#000" stroke-width="1.1"/>
<text x="269.35" y="320.42" font-size="10.00" font-weight="bold" textLength="10.90" lengthAdjust="spacingAndGlyphs">10</text>
<line x1="283.00" y1="367.96" x2="287.60" y2="367.96" stroke="#000" stroke-width="1.1"/>
<text x="274.67" y="371.45" font-size="10.00" font-weight="bold" textLength="5.45" lengthAdjust="spacingAndGlyphs">5</text>
<line x1="283.00" y1="419.00" x2="287.60" y2="419.00" stroke="#000" stroke-width="1.1"/>
<text x="274.80" y="422.49" font-size="10.00" font-weight="bold" textLength="5.45" lengthAdjust="spacingAndGlyphs">0</text>
<line x1="283.00" y1="419.00" x2="440.60" y2="419.00" stroke="#000" stroke-width="1.2"/>
<text transform="translate(260.79,392.19) rotate(-90)" x="0" y="0" font-size="13.00" font-weight="bold" textLength="97.07" lengthAdjust="spacingAndGlyphs">NAG (U/L BALF)</text>
<line x1="291.60" y1="316.20" x2="291.60" y2="320.60" stroke="#000" stroke-width="1.0"/>
<line x1="289.70" y1="316.70" x2="293.50" y2="316.70" stroke="#000" stroke-width="1.4"/>
<rect x="288.50" y="321.10" width="6.20" height="97.90" fill="url(#stripe)" stroke="#000" stroke-width="1.1"/>
<line x1="302.20" y1="304.40" x2="302.20" y2="314.90" stroke="#000" stroke-width="1.0"/>
<line x1="300.30" y1="304.90" x2="304.10" y2="304.90" stroke="#000" stroke-width="1.4"/>
<rect x="299.10" y="315.40" width="6.20" height="103.60" fill="#b4822e" stroke="#000" stroke-width="1.1"/>
<line x1="312.40" y1="330.60" x2="312.40" y2="335.40" stroke="#000" stroke-width="1.0"/>
<line x1="310.50" y1="331.10" x2="314.30" y2="331.10" stroke="#000" stroke-width="1.4"/>
<rect x="309.00" y="335.90" width="6.80" height="83.10" fill="#fff" stroke="#000" stroke-width="1.1"/>
<line x1="333.80" y1="306.90" x2="333.80" y2="309.50" stroke="#000" stroke-width="1.0"/>
<line x1="331.90" y1="307.40" x2="335.70" y2="307.40" stroke="#000" stroke-width="1.4"/>
<rect x="330.70" y="310.00" width="6.20" height="109.00" fill="url(#stripe)" stroke="#000" stroke-width="1.1"/>
<line x1="343.90" y1="316.20" x2="343.90" y2="318.70" stroke="#000" stroke-width="1.0"/>
<line x1="342.00" y1="316.70" x2="345.80" y2="316.70" stroke="#000" stroke-width="1.4"/>
<rect x="340.80" y="319.20" width="6.20" height="99.80" fill="#b4822e" stroke="#000" stroke-width="1.1"/>
<rect x="350.60" y="346.00" width="6.80" height="73.00" fill="#fff" stroke="#000" stroke-width="1.1"/>
<line x1="374.10" y1="311.40" x2="374.10" y2="314.20" stroke="#000" stroke-width="1.0"/>
<line x1="372.20" y1="311.90" x2="376.00" y2="311.90" stroke="#000" stroke-width="1.4"/>
<rect x="371.00" y="314.70" width="6.20" height="104.30" fill="url(#stripe)" stroke="#000" stroke-width="1.1"/>
<line x1="384.20" y1="304.40" x2="384.20" y2="311.90" stroke="#000" stroke-width="1.0"/>
<line x1="382.30" y1="304.90" x2="386.10" y2="304.90" stroke="#000" stroke-width="1.4"/>
<rect x="381.10" y="312.40" width="6.20" height="106.60" fill="#b4822e" stroke="#000" stroke-width="1.1"/>
<line x1="394.10" y1="335.30" x2="394.10" y2="337.60" stroke="#000" stroke-width="1.0"/>
<line x1="392.20" y1="335.80" x2="396.00" y2="335.80" stroke="#000" stroke-width="1.4"/>
<rect x="390.70" y="338.10" width="6.80" height="80.90" fill="#fff" stroke="#000" stroke-width="1.1"/>
<line x1="414.60" y1="283.40" x2="414.60" y2="295.10" stroke="#000" stroke-width="1.0"/>
<line x1="412.70" y1="283.90" x2="416.50" y2="283.90" stroke="#000" stroke-width="1.4"/>
<rect x="411.50" y="295.60" width="6.20" height="123.40" fill="url(#stripe)" stroke="#000" stroke-width="1.1"/>
<line x1="424.40" y1="280.60" x2="424.40" y2="284.50" stroke="#000" stroke-width="1.0"/>
<line x1="422.50" y1="281.10" x2="426.30" y2="281.10" stroke="#000" stroke-width="1.4"/>
<rect x="421.30" y="285.00" width="6.20" height="134.00" fill="#b4822e" stroke="#000" stroke-width="1.1"/>
<line x1="434.50" y1="320.80" x2="434.50" y2="326.20" stroke="#000" stroke-width="1.0"/>
<line x1="432.60" y1="321.30" x2="436.40" y2="321.30" stroke="#000" stroke-width="1.4"/>
<rect x="431.10" y="326.70" width="6.80" height="92.30" fill="#fff" stroke="#000" stroke-width="1.1"/>
<polygon points="332.10,294.20 332.87,296.04 334.86,296.20 333.34,297.50 333.80,299.45 332.10,298.41 330.40,299.45 330.86,297.50 329.34,296.20 331.33,296.04" fill="#000"/>
<polygon points="343.20,304.00 343.97,305.84 345.96,306.00 344.44,307.30 344.90,309.25 343.20,308.20 341.50,309.25 341.96,307.30 340.44,306.00 342.43,305.84" fill="#000"/>
<polygon points="373.60,299.90 374.37,301.74 376.36,301.90 374.84,303.20 375.30,305.15 373.60,304.11 371.90,305.15 372.36,303.20 370.84,301.90 372.83,301.74" fill="#000"/>
<polygon points="382.90,292.20 383.67,294.04 385.66,294.20 384.14,295.50 384.60,297.45 382.90,296.41 381.20,297.45 381.66,295.50 380.14,294.20 382.13,294.04" fill="#000"/>
<polygon points="413.80,270.70 414.57,272.54 416.56,272.70 415.04,274.00 415.50,275.95 413.80,274.91 412.10,275.95 412.56,274.00 411.04,272.70 413.03,272.54" fill="#000"/>
<polygon points="423.10,267.60 423.87,269.44 425.86,269.60 424.34,270.90 424.80,272.85 423.10,271.81 421.40,272.85 421.86,270.90 420.34,269.60 422.33,269.44" fill="#000"/>
<text x="250.73" y="437.50" font-size="12.20" font-weight="bold" textLength="22.48" lengthAdjust="spacingAndGlyphs">Pen</text>
<line x1="289.10" y1="435.10" x2="293.50" y2="435.10" stroke="#1a1a1a" stroke-width="1.4"/>
<line x1="299.30" y1="435.10" x2="303.70" y2="435.10" stroke="#1a1a1a" stroke-width="1.4"/>
<line x1="309.50" y1="435.10" x2="313.90" y2="435.10" stroke="#1a1a1a" stroke-width="1.4"/>
<line x1="327.90" y1="433.50" x2="335.50" y2="433.50" stroke="#000" stroke-width="1.35"/>
<line x1="331.70" y1="429.90" x2="331.70" y2="437.10" stroke="#000" stroke-width="1.35"/>
<line x1="337.75" y1="433.50" x2="345.35" y2="433.50" stroke="#000" stroke-width="1.35"/>
<line x1="341.55" y1="429.90" x2="341.55" y2="437.10" stroke="#000" stroke-width="1.35"/>
<line x1="347.60" y1="433.50" x2="355.20" y2="433.50" stroke="#000" stroke-width="1.35"/>
<line x1="351.40" y1="429.90" x2="351.40" y2="437.10" stroke="#000" stroke-width="1.35"/>
<line x1="369.80" y1="435.10" x2="374.20" y2="435.10" stroke="#1a1a1a" stroke-width="1.4"/>
<line x1="380.05" y1="435.10" x2="384.45" y2="435.10" stroke="#1a1a1a" stroke-width="1.4"/>
<line x1="390.30" y1="435.10" x2="394.70" y2="435.10" stroke="#1a1a1a" stroke-width="1.4"/>
<line x1="409.60" y1="433.50" x2="417.20" y2="433.50" stroke="#000" stroke-width="1.35"/>
<line x1="413.40" y1="429.90" x2="413.40" y2="437.10" stroke="#000" stroke-width="1.35"/>
<line x1="419.30" y1="433.50" x2="426.90" y2="433.50" stroke="#000" stroke-width="1.35"/>
<line x1="423.10" y1="429.90" x2="423.10" y2="437.10" stroke="#000" stroke-width="1.35"/>
<line x1="429.00" y1="433.50" x2="436.60" y2="433.50" stroke="#000" stroke-width="1.35"/>
<line x1="432.80" y1="429.90" x2="432.80" y2="437.10" stroke="#000" stroke-width="1.35"/>
<text x="464.41" y="247.30" font-size="21.5" font-weight="bold">F</text>
<text x="522.96" y="235.50" font-size="12.40" font-weight="bold" textLength="49.15" lengthAdjust="spacingAndGlyphs">4 h post</text>
<text x="519.56" y="250.30" font-size="12.40" font-weight="bold" textLength="56.23" lengthAdjust="spacingAndGlyphs">exposure</text>
<text x="604.00" y="236.00" font-size="12.30" font-weight="bold" textLength="56.40" lengthAdjust="spacingAndGlyphs">24 h post</text>
<text x="603.95" y="250.30" font-size="12.30" font-weight="bold" textLength="56.43" lengthAdjust="spacingAndGlyphs">exposure</text>
<path d="M520.20 266.40V258.40H575.50V266.40" fill="none" stroke="#000" stroke-width="1.2"/>
<path d="M602.80 266.00V256.90H661.40V266.00" fill="none" stroke="#000" stroke-width="1.2"/>
<line x1="511.40" y1="260.77" x2="511.40" y2="418.30" stroke="#000" stroke-width="1.1"/>
<line x1="506.80" y1="261.32" x2="511.40" y2="261.32" stroke="#000" stroke-width="1.1"/>
<text x="499.19" y="264.98" font-size="10.50" font-weight="bold" textLength="5.84" lengthAdjust="spacingAndGlyphs">6</text>
<line x1="506.80" y1="287.40" x2="511.40" y2="287.40" stroke="#000" stroke-width="1.1"/>
<text x="499.10" y="291.06" font-size="10.50" font-weight="bold" textLength="5.84" lengthAdjust="spacingAndGlyphs">5</text>
<line x1="506.80" y1="313.48" x2="511.40" y2="313.48" stroke="#000" stroke-width="1.1"/>
<text x="498.87" y="317.14" font-size="10.50" font-weight="bold" textLength="5.84" lengthAdjust="spacingAndGlyphs">4</text>
<line x1="506.80" y1="339.56" x2="511.40" y2="339.56" stroke="#000" stroke-width="1.1"/>
<text x="499.19" y="343.22" font-size="10.50" font-weight="bold" textLength="5.84" lengthAdjust="spacingAndGlyphs">3</text>
<line x1="506.80" y1="365.64" x2="511.40" y2="365.64" stroke="#000" stroke-width="1.1"/>
<text x="499.23" y="369.30" font-size="10.50" font-weight="bold" textLength="5.84" lengthAdjust="spacingAndGlyphs">2</text>
<line x1="506.80" y1="391.72" x2="511.40" y2="391.72" stroke="#000" stroke-width="1.1"/>
<text x="499.10" y="395.38" font-size="10.50" font-weight="bold" textLength="5.84" lengthAdjust="spacingAndGlyphs">1</text>
<line x1="506.80" y1="417.80" x2="511.40" y2="417.80" stroke="#000" stroke-width="1.1"/>
<text x="499.24" y="421.46" font-size="10.50" font-weight="bold" textLength="5.84" lengthAdjust="spacingAndGlyphs">0</text>
<line x1="506.80" y1="417.80" x2="668.00" y2="417.80" stroke="#000" stroke-width="1.2"/>
<text transform="translate(483.29,389.28) rotate(-90)" x="0" y="0" font-size="13.00" font-weight="bold" textLength="98.77" lengthAdjust="spacingAndGlyphs">GGT (U/L BALF)</text>
<line x1="517.20" y1="312.40" x2="517.20" y2="321.60" stroke="#000" stroke-width="1.0"/>
<line x1="515.30" y1="312.90" x2="519.10" y2="312.90" stroke="#000" stroke-width="1.4"/>
<rect x="514.10" y="322.10" width="6.20" height="95.70" fill="url(#stripe)" stroke="#000" stroke-width="1.1"/>
<line x1="527.20" y1="333.60" x2="527.20" y2="338.80" stroke="#000" stroke-width="1.0"/>
<line x1="525.30" y1="334.10" x2="529.10" y2="334.10" stroke="#000" stroke-width="1.4"/>
<rect x="524.10" y="339.30" width="6.20" height="78.50" fill="#b4822e" stroke="#000" stroke-width="1.1"/>
<line x1="538.00" y1="316.40" x2="538.00" y2="321.60" stroke="#000" stroke-width="1.0"/>
<line x1="536.10" y1="316.90" x2="539.90" y2="316.90" stroke="#000" stroke-width="1.4"/>
<rect x="534.60" y="322.10" width="6.80" height="95.70" fill="#fff" stroke="#000" stroke-width="1.1"/>
<line x1="558.40" y1="337.50" x2="558.40" y2="343.20" stroke="#000" stroke-width="1.0"/>
<line x1="556.50" y1="338.00" x2="560.30" y2="338.00" stroke="#000" stroke-width="1.4"/>
<rect x="555.30" y="343.70" width="6.20" height="74.10" fill="url(#stripe)" stroke="#000" stroke-width="1.1"/>
<line x1="568.90" y1="334.40" x2="568.90" y2="336.90" stroke="#000" stroke-width="1.0"/>
<line x1="567.00" y1="334.90" x2="570.80" y2="334.90" stroke="#000" stroke-width="1.4"/>
<rect x="565.80" y="337.40" width="6.20" height="80.40" fill="#b4822e" stroke="#000" stroke-width="1.1"/>
<rect x="576.10" y="327.80" width="6.80" height="90.00" fill="#fff" stroke="#000" stroke-width="1.1"/>
<line x1="600.10" y1="330.60" x2="600.10" y2="341.30" stroke="#000" stroke-width="1.0"/>
<line x1="598.20" y1="331.10" x2="602.00" y2="331.10" stroke="#000" stroke-width="1.4"/>
<rect x="597.00" y="341.80" width="6.20" height="76.00" fill="url(#stripe)" stroke="#000" stroke-width="1.1"/>
<line x1="611.00" y1="337.50" x2="611.00" y2="339.80" stroke="#000" stroke-width="1.0"/>
<line x1="609.10" y1="338.00" x2="612.90" y2="338.00" stroke="#000" stroke-width="1.4"/>
<rect x="607.90" y="340.30" width="6.20" height="77.50" fill="#b4822e" stroke="#000" stroke-width="1.1"/>
<line x1="621.20" y1="336.50" x2="621.20" y2="340.70" stroke="#000" stroke-width="1.0"/>
<line x1="619.30" y1="337.00" x2="623.10" y2="337.00" stroke="#000" stroke-width="1.4"/>
<rect x="617.80" y="341.20" width="6.80" height="76.60" fill="#fff" stroke="#000" stroke-width="1.1"/>
<line x1="641.60" y1="338.40" x2="641.60" y2="341.10" stroke="#000" stroke-width="1.0"/>
<line x1="639.70" y1="338.90" x2="643.50" y2="338.90" stroke="#000" stroke-width="1.4"/>
<rect x="638.50" y="341.60" width="6.20" height="76.20" fill="url(#stripe)" stroke="#000" stroke-width="1.1"/>
<line x1="652.30" y1="308.60" x2="652.30" y2="314.30" stroke="#000" stroke-width="1.0"/>
<line x1="650.40" y1="309.10" x2="654.20" y2="309.10" stroke="#000" stroke-width="1.4"/>
<rect x="649.20" y="314.80" width="6.20" height="103.00" fill="#b4822e" stroke="#000" stroke-width="1.1"/>
<line x1="662.40" y1="303.40" x2="662.40" y2="307.20" stroke="#000" stroke-width="1.0"/>
<line x1="660.50" y1="303.90" x2="664.30" y2="303.90" stroke="#000" stroke-width="1.4"/>
<rect x="659.00" y="307.70" width="6.80" height="110.10" fill="#fff" stroke="#000" stroke-width="1.1"/>
<polygon points="558.20,323.90 558.97,325.74 560.96,325.90 559.44,327.20 559.90,329.15 558.20,328.11 556.50,329.15 556.96,327.20 555.44,325.90 557.43,325.74" fill="#000"/>
<polygon points="640.50,324.40 641.27,326.24 643.26,326.40 641.74,327.70 642.20,329.65 640.50,328.61 638.80,329.65 639.26,327.70 637.74,326.40 639.73,326.24" fill="#000"/>
<text x="474.58" y="436.80" font-size="12.20" font-weight="bold" textLength="23.77" lengthAdjust="spacingAndGlyphs">Pen</text>
<line x1="513.80" y1="435.10" x2="518.20" y2="435.10" stroke="#1a1a1a" stroke-width="1.4"/>
<line x1="523.95" y1="435.10" x2="528.35" y2="435.10" stroke="#1a1a1a" stroke-width="1.4"/>
<line x1="534.10" y1="435.10" x2="538.50" y2="435.10" stroke="#1a1a1a" stroke-width="1.4"/>
<line x1="554.10" y1="432.70" x2="561.70" y2="432.70" stroke="#000" stroke-width="1.35"/>
<line x1="557.90" y1="429.10" x2="557.90" y2="436.30" stroke="#000" stroke-width="1.35"/>
<line x1="564.25" y1="432.70" x2="571.85" y2="432.70" stroke="#000" stroke-width="1.35"/>
<line x1="568.05" y1="429.10" x2="568.05" y2="436.30" stroke="#000" stroke-width="1.35"/>
<line x1="574.40" y1="432.70" x2="582.00" y2="432.70" stroke="#000" stroke-width="1.35"/>
<line x1="578.20" y1="429.10" x2="578.20" y2="436.30" stroke="#000" stroke-width="1.35"/>
<line x1="596.50" y1="435.10" x2="600.90" y2="435.10" stroke="#1a1a1a" stroke-width="1.4"/>
<line x1="606.85" y1="435.10" x2="611.25" y2="435.10" stroke="#1a1a1a" stroke-width="1.4"/>
<line x1="617.20" y1="435.10" x2="621.60" y2="435.10" stroke="#1a1a1a" stroke-width="1.4"/>
<line x1="636.80" y1="432.70" x2="644.40" y2="432.70" stroke="#000" stroke-width="1.35"/>
<line x1="640.60" y1="429.10" x2="640.60" y2="436.30" stroke="#000" stroke-width="1.35"/>
<line x1="647.45" y1="432.70" x2="655.05" y2="432.70" stroke="#000" stroke-width="1.35"/>
<line x1="651.25" y1="429.10" x2="651.25" y2="436.30" stroke="#000" stroke-width="1.35"/>
<line x1="658.10" y1="432.70" x2="665.70" y2="432.70" stroke="#000" stroke-width="1.35"/>
<line x1="661.90" y1="429.10" x2="661.90" y2="436.30" stroke="#000" stroke-width="1.35"/>
<text x="2.47" y="472.30" font-size="21.5" font-weight="bold">G</text>
<text x="70.66" y="460.70" font-size="12.30" font-weight="bold" textLength="47.74" lengthAdjust="spacingAndGlyphs">4 h post</text>
<text x="67.37" y="475.10" font-size="12.30" font-weight="bold" textLength="54.40" lengthAdjust="spacingAndGlyphs">exposure</text>
<text x="147.41" y="460.50" font-size="12.30" font-weight="bold" textLength="55.69" lengthAdjust="spacingAndGlyphs">24 h post</text>
<text x="147.67" y="475.10" font-size="12.30" font-weight="bold" textLength="55.01" lengthAdjust="spacingAndGlyphs">exposure</text>
<path d="M68.40 490.50V481.80H121.90V490.50" fill="none" stroke="#000" stroke-width="1.2"/>
<path d="M146.80 490.50V481.80H204.70V490.50" fill="none" stroke="#000" stroke-width="1.2"/>
<line x1="59.50" y1="494.95" x2="59.50" y2="650.50" stroke="#000" stroke-width="1.1"/>
<line x1="54.90" y1="495.50" x2="59.50" y2="495.50" stroke="#000" stroke-width="1.1"/>
<text x="34.90" y="498.61" font-size="8.90" font-weight="bold" textLength="17.37" lengthAdjust="spacingAndGlyphs">600</text>
<line x1="54.90" y1="521.25" x2="59.50" y2="521.25" stroke="#000" stroke-width="1.1"/>
<text x="34.90" y="524.36" font-size="8.90" font-weight="bold" textLength="17.37" lengthAdjust="spacingAndGlyphs">500</text>
<line x1="54.90" y1="547.00" x2="59.50" y2="547.00" stroke="#000" stroke-width="1.1"/>
<text x="34.90" y="550.11" font-size="8.90" font-weight="bold" textLength="17.37" lengthAdjust="spacingAndGlyphs">400</text>
<line x1="54.90" y1="572.75" x2="59.50" y2="572.75" stroke="#000" stroke-width="1.1"/>
<text x="34.90" y="575.86" font-size="8.90" font-weight="bold" textLength="17.37" lengthAdjust="spacingAndGlyphs">300</text>
<line x1="54.90" y1="598.50" x2="59.50" y2="598.50" stroke="#000" stroke-width="1.1"/>
<text x="34.90" y="601.61" font-size="8.90" font-weight="bold" textLength="17.37" lengthAdjust="spacingAndGlyphs">200</text>
<line x1="54.90" y1="624.25" x2="59.50" y2="624.25" stroke="#000" stroke-width="1.1"/>
<text x="34.90" y="627.36" font-size="8.90" font-weight="bold" textLength="17.37" lengthAdjust="spacingAndGlyphs">100</text>
<line x1="54.90" y1="650.00" x2="59.50" y2="650.00" stroke="#000" stroke-width="1.1"/>
<text x="46.49" y="653.11" font-size="8.90" font-weight="bold" textLength="5.79" lengthAdjust="spacingAndGlyphs">0</text>
<line x1="54.90" y1="650.00" x2="213.80" y2="650.00" stroke="#000" stroke-width="1.2"/>
<text transform="translate(26.92,628.72) rotate(-90)" x="0" y="0" font-size="12.60" font-weight="bold" textLength="113.22" lengthAdjust="spacingAndGlyphs">IL-6 (pg/mL BALF)</text>
<line x1="64.50" y1="517.60" x2="64.50" y2="547.40" stroke="#000" stroke-width="1.0"/>
<line x1="62.60" y1="518.10" x2="66.40" y2="518.10" stroke="#000" stroke-width="1.4"/>
<rect x="61.40" y="547.90" width="6.20" height="102.10" fill="url(#stripe)" stroke="#000" stroke-width="1.1"/>
<line x1="75.00" y1="609.90" x2="75.00" y2="619.50" stroke="#000" stroke-width="1.0"/>
<line x1="73.10" y1="610.40" x2="76.90" y2="610.40" stroke="#000" stroke-width="1.4"/>
<rect x="71.90" y="620.00" width="6.20" height="30.00" fill="#b4822e" stroke="#000" stroke-width="1.1"/>
<rect x="81.70" y="649.30" width="6.80" height="0.70" fill="#fff" stroke="#000" stroke-width="1.1"/>
<line x1="106.10" y1="561.40" x2="106.10" y2="586.70" stroke="#000" stroke-width="1.0"/>
<line x1="104.20" y1="561.90" x2="108.00" y2="561.90" stroke="#000" stroke-width="1.4"/>
<rect x="103.00" y="587.20" width="6.20" height="62.80" fill="url(#stripe)" stroke="#000" stroke-width="1.1"/>
<line x1="116.00" y1="554.40" x2="116.00" y2="578.30" stroke="#000" stroke-width="1.0"/>
<line x1="114.10" y1="554.90" x2="117.90" y2="554.90" stroke="#000" stroke-width="1.4"/>
<rect x="112.90" y="578.80" width="6.20" height="71.20" fill="#b4822e" stroke="#000" stroke-width="1.1"/>
<rect x="123.00" y="649.50" width="6.80" height="0.50" fill="#fff" stroke="#000" stroke-width="1.1"/>
<line x1="146.70" y1="625.60" x2="146.70" y2="631.80" stroke="#000" stroke-width="1.0"/>
<line x1="144.80" y1="626.10" x2="148.60" y2="626.10" stroke="#000" stroke-width="1.4"/>
<rect x="143.60" y="632.30" width="6.20" height="17.70" fill="url(#stripe)" stroke="#000" stroke-width="1.1"/>
<line x1="156.80" y1="614.60" x2="156.80" y2="622.00" stroke="#000" stroke-width="1.0"/>
<line x1="154.90" y1="615.10" x2="158.70" y2="615.10" stroke="#000" stroke-width="1.4"/>
<rect x="153.70" y="622.50" width="6.20" height="27.50" fill="#b4822e" stroke="#000" stroke-width="1.1"/>
<line x1="163.50" y1="649.50" x2="170.70" y2="649.50" stroke="#000" stroke-width="1.2"/>
<line x1="188.00" y1="604.90" x2="188.00" y2="611.60" stroke="#000" stroke-width="1.0"/>
<line x1="186.10" y1="605.40" x2="189.90" y2="605.40" stroke="#000" stroke-width="1.4"/>
<rect x="184.90" y="612.10" width="6.20" height="37.90" fill="url(#stripe)" stroke="#000" stroke-width="1.1"/>
<line x1="197.90" y1="637.00" x2="197.90" y2="639.50" stroke="#000" stroke-width="1.0"/>
<line x1="196.00" y1="637.50" x2="199.80" y2="637.50" stroke="#000" stroke-width="1.4"/>
<rect x="194.80" y="640.00" width="6.20" height="10.00" fill="#b4822e" stroke="#000" stroke-width="1.1"/>
<line x1="204.50" y1="649.50" x2="211.70" y2="649.50" stroke="#000" stroke-width="1.2"/>
<polygon points="64.50,503.30 65.27,505.14 67.26,505.30 65.74,506.60 66.20,508.55 64.50,507.50 62.80,508.55 63.26,506.60 61.74,505.30 63.73,505.14" fill="#000"/>
<polygon points="115.90,540.50 116.67,542.34 118.66,542.50 117.14,543.80 117.60,545.75 115.90,544.70 114.20,545.75 114.66,543.80 113.14,542.50 115.13,542.34" fill="#000"/>
<polygon points="155.90,600.90 156.67,602.74 158.66,602.90 157.14,604.20 157.60,606.15 155.90,605.10 154.20,606.15 154.66,604.20 153.14,602.90 155.13,602.74" fill="#000"/>
<polygon points="186.90,590.80 187.67,592.64 189.66,592.80 188.14,594.10 188.60,596.05 186.90,595.00 185.20,596.05 185.66,594.10 184.14,592.80 186.13,592.64" fill="#000"/>
<text x="23.05" y="668.20" font-size="12.20" font-weight="bold" textLength="22.05" lengthAdjust="spacingAndGlyphs">Pen</text>
<line x1="61.40" y1="666.50" x2="65.80" y2="666.50" stroke="#1a1a1a" stroke-width="1.4"/>
<line x1="71.30" y1="666.50" x2="75.70" y2="666.50" stroke="#1a1a1a" stroke-width="1.4"/>
<line x1="81.20" y1="666.50" x2="85.60" y2="666.50" stroke="#1a1a1a" stroke-width="1.4"/>
<line x1="101.20" y1="664.10" x2="108.80" y2="664.10" stroke="#000" stroke-width="1.35"/>
<line x1="105.00" y1="660.50" x2="105.00" y2="667.70" stroke="#000" stroke-width="1.35"/>
<line x1="110.90" y1="664.10" x2="118.50" y2="664.10" stroke="#000" stroke-width="1.35"/>
<line x1="114.70" y1="660.50" x2="114.70" y2="667.70" stroke="#000" stroke-width="1.35"/>
<line x1="120.60" y1="664.10" x2="128.20" y2="664.10" stroke="#000" stroke-width="1.35"/>
<line x1="124.40" y1="660.50" x2="124.40" y2="667.70" stroke="#000" stroke-width="1.35"/>
<line x1="143.20" y1="666.50" x2="147.60" y2="666.50" stroke="#1a1a1a" stroke-width="1.4"/>
<line x1="153.40" y1="666.50" x2="157.80" y2="666.50" stroke="#1a1a1a" stroke-width="1.4"/>
<line x1="163.60" y1="666.50" x2="168.00" y2="666.50" stroke="#1a1a1a" stroke-width="1.4"/>
<line x1="183.60" y1="664.10" x2="191.20" y2="664.10" stroke="#000" stroke-width="1.35"/>
<line x1="187.40" y1="660.50" x2="187.40" y2="667.70" stroke="#000" stroke-width="1.35"/>
<line x1="193.45" y1="664.10" x2="201.05" y2="664.10" stroke="#000" stroke-width="1.35"/>
<line x1="197.25" y1="660.50" x2="197.25" y2="667.70" stroke="#000" stroke-width="1.35"/>
<line x1="203.30" y1="664.10" x2="210.90" y2="664.10" stroke="#000" stroke-width="1.35"/>
<line x1="207.10" y1="660.50" x2="207.10" y2="667.70" stroke="#000" stroke-width="1.35"/>
<text x="235.51" y="471.10" font-size="21.5" font-weight="bold">H</text>
<text x="302.66" y="460.70" font-size="12.30" font-weight="bold" textLength="49.15" lengthAdjust="spacingAndGlyphs">4 h post</text>
<text x="299.26" y="475.10" font-size="12.30" font-weight="bold" textLength="55.72" lengthAdjust="spacingAndGlyphs">exposure</text>
<text x="379.91" y="460.70" font-size="12.30" font-weight="bold" textLength="55.39" lengthAdjust="spacingAndGlyphs">24 h post</text>
<text x="379.86" y="475.10" font-size="12.30" font-weight="bold" textLength="55.72" lengthAdjust="spacingAndGlyphs">exposure</text>
<path d="M299.70 490.60V481.80H351.70V490.60" fill="none" stroke="#000" stroke-width="1.2"/>
<path d="M379.40 491.00V481.80H437.60V491.00" fill="none" stroke="#000" stroke-width="1.2"/>
<path d="M307.30 504.10V495.30H349.60V504.10" fill="none" stroke="#000" stroke-width="1.2"/>
<text x="329.70" y="491.90" font-size="10.0" font-weight="bold" text-anchor="middle">#</text>
<line x1="292.00" y1="494.90" x2="292.00" y2="537.90" stroke="#000" stroke-width="1.1"/>
<line x1="287.30" y1="495.50" x2="292.00" y2="495.50" stroke="#000" stroke-width="1.1"/>
<text x="260.75" y="498.70" font-size="9.20" font-weight="bold" textLength="23.33" lengthAdjust="spacingAndGlyphs">3800</text>
<line x1="287.30" y1="506.50" x2="292.00" y2="506.50" stroke="#000" stroke-width="1.1"/>
<text x="260.75" y="509.70" font-size="9.20" font-weight="bold" textLength="23.33" lengthAdjust="spacingAndGlyphs">3000</text>
<line x1="287.30" y1="516.80" x2="292.00" y2="516.80" stroke="#000" stroke-width="1.1"/>
<text x="260.75" y="520.00" font-size="9.20" font-weight="bold" textLength="23.33" lengthAdjust="spacingAndGlyphs">2200</text>
<line x1="287.30" y1="527.30" x2="292.00" y2="527.30" stroke="#000" stroke-width="1.1"/>
<text x="260.75" y="530.50" font-size="9.20" font-weight="bold" textLength="23.33" lengthAdjust="spacingAndGlyphs">1400</text>
<line x1="287.30" y1="537.90" x2="292.00" y2="537.90" stroke="#000" stroke-width="1.1"/>
<text x="266.58" y="541.10" font-size="9.20" font-weight="bold" textLength="17.50" lengthAdjust="spacingAndGlyphs">600</text>
<line x1="292.00" y1="537.90" x2="295.60" y2="537.90" stroke="#000" stroke-width="1.2"/>
<line x1="292.00" y1="550.00" x2="292.00" y2="650.20" stroke="#000" stroke-width="1.1"/>
<line x1="292.00" y1="550.30" x2="295.80" y2="550.30" stroke="#000" stroke-width="1.2"/>
<line x1="287.30" y1="550.30" x2="292.00" y2="550.30" stroke="#000" stroke-width="1.1"/>
<text x="266.16" y="553.70" font-size="9.70" font-weight="bold" textLength="17.32" lengthAdjust="spacingAndGlyphs">600</text>
<line x1="287.30" y1="566.80" x2="292.00" y2="566.80" stroke="#000" stroke-width="1.1"/>
<text x="266.16" y="570.20" font-size="9.70" font-weight="bold" textLength="17.32" lengthAdjust="spacingAndGlyphs">500</text>
<line x1="287.30" y1="583.70" x2="292.00" y2="583.70" stroke="#000" stroke-width="1.1"/>
<text x="266.16" y="587.10" font-size="9.70" font-weight="bold" textLength="17.32" lengthAdjust="spacingAndGlyphs">400</text>
<line x1="287.30" y1="600.40" x2="292.00" y2="600.40" stroke="#000" stroke-width="1.1"/>
<text x="266.16" y="603.80" font-size="9.70" font-weight="bold" textLength="17.32" lengthAdjust="spacingAndGlyphs">300</text>
<line x1="287.30" y1="616.60" x2="292.00" y2="616.60" stroke="#000" stroke-width="1.1"/>
<text x="266.16" y="620.00" font-size="9.70" font-weight="bold" textLength="17.32" lengthAdjust="spacingAndGlyphs">200</text>
<line x1="287.30" y1="633.10" x2="292.00" y2="633.10" stroke="#000" stroke-width="1.1"/>
<text x="266.16" y="636.50" font-size="9.70" font-weight="bold" textLength="17.32" lengthAdjust="spacingAndGlyphs">100</text>
<line x1="287.30" y1="649.70" x2="292.00" y2="649.70" stroke="#000" stroke-width="1.1"/>
<text x="277.70" y="653.10" font-size="9.70" font-weight="bold" textLength="5.77" lengthAdjust="spacingAndGlyphs">0</text>
<line x1="287.30" y1="649.70" x2="446.60" y2="649.70" stroke="#000" stroke-width="1.2"/>
<text transform="translate(251.49,632.50) rotate(-90)" x="0" y="0" font-size="13.00" font-weight="bold" textLength="121.08" lengthAdjust="spacingAndGlyphs">MIP-2 (pg/mL BALF)</text>
<line x1="296.05" y1="566.00" x2="296.05" y2="575.90" stroke="#000" stroke-width="1.0"/>
<line x1="294.15" y1="566.50" x2="297.95" y2="566.50" stroke="#000" stroke-width="1.4"/>
<rect x="292.90" y="576.40" width="6.30" height="73.30" fill="url(#stripe)" stroke="#000" stroke-width="1.1"/>
<line x1="306.85" y1="550.60" x2="306.85" y2="553.50" stroke="#000" stroke-width="1.0"/>
<line x1="304.95" y1="551.10" x2="308.75" y2="551.10" stroke="#000" stroke-width="1.4"/>
<rect x="303.70" y="554.00" width="6.30" height="95.70" fill="#b4822e" stroke="#000" stroke-width="1.1"/>
<rect x="313.40" y="642.10" width="6.30" height="7.60" fill="#fff" stroke="#000" stroke-width="1.1"/>
<rect x="334.90" y="550.00" width="6.30" height="99.70" fill="url(#stripe)"/>
<line x1="334.95" y1="550.00" x2="334.95" y2="649.70" stroke="#000" stroke-width="1.1"/>
<line x1="341.15" y1="550.00" x2="341.15" y2="649.70" stroke="#000" stroke-width="1.1"/>
<rect x="344.80" y="550.00" width="6.30" height="99.70" fill="#b4822e"/>
<line x1="344.85" y1="550.00" x2="344.85" y2="649.70" stroke="#000" stroke-width="1.1"/>
<line x1="351.05" y1="550.00" x2="351.05" y2="649.70" stroke="#000" stroke-width="1.1"/>
<rect x="355.00" y="644.30" width="6.30" height="5.40" fill="#fff" stroke="#000" stroke-width="1.1"/>
<line x1="304.70" y1="537.50" x2="309.00" y2="537.50" stroke="#000" stroke-width="1.4"/>
<line x1="334.90" y1="537.40" x2="341.20" y2="537.40" stroke="#000" stroke-width="1.4"/>
<line x1="338.05" y1="534.80" x2="338.05" y2="537.40" stroke="#000" stroke-width="1.0"/>
<line x1="336.15" y1="535.30" x2="339.95" y2="535.30" stroke="#000" stroke-width="1.4"/>
<line x1="347.95" y1="521.90" x2="347.95" y2="525.70" stroke="#000" stroke-width="1.0"/>
<line x1="346.05" y1="522.40" x2="349.85" y2="522.40" stroke="#000" stroke-width="1.4"/>
<path d="M344.80 538.20V526.20H351.10V538.20" fill="#b4822e" stroke="#000" stroke-width="1.1"/>
<line x1="379.25" y1="636.60" x2="379.25" y2="638.00" stroke="#000" stroke-width="1.0"/>
<line x1="377.35" y1="637.10" x2="381.15" y2="637.10" stroke="#000" stroke-width="1.4"/>
<rect x="376.10" y="638.50" width="6.30" height="11.20" fill="url(#stripe)" stroke="#000" stroke-width="1.1"/>
<line x1="389.25" y1="586.70" x2="389.25" y2="600.40" stroke="#000" stroke-width="1.0"/>
<line x1="387.35" y1="587.20" x2="391.15" y2="587.20" stroke="#000" stroke-width="1.4"/>
<rect x="386.10" y="600.90" width="6.30" height="48.80" fill="#b4822e" stroke="#000" stroke-width="1.1"/>
<rect x="396.00" y="645.40" width="6.90" height="4.30" fill="#fff" stroke="#000" stroke-width="1.1"/>
<line x1="420.75" y1="618.60" x2="420.75" y2="626.00" stroke="#000" stroke-width="1.0"/>
<line x1="418.85" y1="619.10" x2="422.65" y2="619.10" stroke="#000" stroke-width="1.4"/>
<rect x="417.60" y="626.50" width="6.30" height="23.20" fill="url(#stripe)" stroke="#000" stroke-width="1.1"/>
<line x1="430.65" y1="623.30" x2="430.65" y2="624.60" stroke="#000" stroke-width="1.0"/>
<line x1="428.75" y1="623.80" x2="432.55" y2="623.80" stroke="#000" stroke-width="1.4"/>
<rect x="427.50" y="625.10" width="6.30" height="24.60" fill="#b4822e" stroke="#000" stroke-width="1.1"/>
<rect x="437.60" y="642.80" width="6.90" height="6.90" fill="#fff" stroke="#000" stroke-width="1.1"/>
<polygon points="306.30,523.90 307.07,525.74 309.06,525.90 307.54,527.20 308.00,529.15 306.30,528.10 304.60,529.15 305.06,527.20 303.54,525.90 305.53,525.74" fill="#000"/>
<polygon points="296.40,549.70 297.17,551.54 299.16,551.70 297.64,553.00 298.10,554.95 296.40,553.90 294.70,554.95 295.16,553.00 293.64,551.70 295.63,551.54" fill="#000"/>
<polygon points="348.20,509.10 348.97,510.94 350.96,511.10 349.44,512.40 349.90,514.35 348.20,513.30 346.50,514.35 346.96,512.40 345.44,511.10 347.43,510.94" fill="#000"/>
<polygon points="389.10,569.20 389.87,571.04 391.86,571.20 390.34,572.50 390.80,574.45 389.10,573.40 387.40,574.45 387.86,572.50 386.34,571.20 388.33,571.04" fill="#000"/>
<polygon points="420.10,603.60 420.87,605.44 422.86,605.60 421.34,606.90 421.80,608.85 420.10,607.80 418.40,608.85 418.86,606.90 417.34,605.60 419.33,605.44" fill="#000"/>
<polygon points="430.60,605.10 431.37,606.94 433.36,607.10 431.84,608.40 432.30,610.35 430.60,609.30 428.90,610.35 429.36,608.40 427.84,607.10 429.83,606.94" fill="#000"/>
<text x="254.82" y="668.20" font-size="12.20" font-weight="bold" textLength="22.70" lengthAdjust="spacingAndGlyphs">Pen</text>
<line x1="292.50" y1="666.50" x2="296.90" y2="666.50" stroke="#1a1a1a" stroke-width="1.4"/>
<line x1="302.70" y1="666.50" x2="307.10" y2="666.50" stroke="#1a1a1a" stroke-width="1.4"/>
<line x1="312.90" y1="666.50" x2="317.30" y2="666.50" stroke="#1a1a1a" stroke-width="1.4"/>
<line x1="333.60" y1="664.10" x2="341.20" y2="664.10" stroke="#000" stroke-width="1.35"/>
<line x1="337.40" y1="660.50" x2="337.40" y2="667.70" stroke="#000" stroke-width="1.35"/>
<line x1="343.45" y1="664.10" x2="351.05" y2="664.10" stroke="#000" stroke-width="1.35"/>
<line x1="347.25" y1="660.50" x2="347.25" y2="667.70" stroke="#000" stroke-width="1.35"/>
<line x1="353.30" y1="664.10" x2="360.90" y2="664.10" stroke="#000" stroke-width="1.35"/>
<line x1="357.10" y1="660.50" x2="357.10" y2="667.70" stroke="#000" stroke-width="1.35"/>
<line x1="374.90" y1="666.50" x2="379.30" y2="666.50" stroke="#1a1a1a" stroke-width="1.4"/>
<line x1="385.45" y1="666.50" x2="389.85" y2="666.50" stroke="#1a1a1a" stroke-width="1.4"/>
<line x1="396.00" y1="666.50" x2="400.40" y2="666.50" stroke="#1a1a1a" stroke-width="1.4"/>
<line x1="415.30" y1="664.10" x2="422.90" y2="664.10" stroke="#000" stroke-width="1.35"/>
<line x1="419.10" y1="660.50" x2="419.10" y2="667.70" stroke="#000" stroke-width="1.35"/>
<line x1="425.50" y1="664.10" x2="433.10" y2="664.10" stroke="#000" stroke-width="1.35"/>
<line x1="429.30" y1="660.50" x2="429.30" y2="667.70" stroke="#000" stroke-width="1.35"/>
<line x1="435.70" y1="664.10" x2="443.30" y2="664.10" stroke="#000" stroke-width="1.35"/>
<line x1="439.50" y1="660.50" x2="439.50" y2="667.70" stroke="#000" stroke-width="1.35"/>
<text x="461.91" y="470.70" font-size="21.5" font-weight="bold">I</text>
<text x="524.46" y="460.50" font-size="11.30" font-weight="bold" textLength="47.94" lengthAdjust="spacingAndGlyphs">4 h post</text>
<text x="521.57" y="474.80" font-size="11.30" font-weight="bold" textLength="54.29" lengthAdjust="spacingAndGlyphs">exposure</text>
<text x="601.02" y="460.70" font-size="11.30" font-weight="bold" textLength="54.68" lengthAdjust="spacingAndGlyphs">24 h post</text>
<text x="600.97" y="474.80" font-size="11.30" font-weight="bold" textLength="54.60" lengthAdjust="spacingAndGlyphs">exposure</text>
<path d="M522.40 490.40V481.80H576.10V490.40" fill="none" stroke="#000" stroke-width="1.2"/>
<path d="M599.70 490.40V481.80H658.00V490.40" fill="none" stroke="#000" stroke-width="1.2"/>
<line x1="513.60" y1="494.65" x2="513.60" y2="649.00" stroke="#000" stroke-width="1.1"/>
<line x1="509.00" y1="495.20" x2="513.60" y2="495.20" stroke="#000" stroke-width="1.1"/>
<text x="489.41" y="498.52" font-size="9.50" font-weight="bold" textLength="16.96" lengthAdjust="spacingAndGlyphs">100</text>
<line x1="509.00" y1="525.86" x2="513.60" y2="525.86" stroke="#000" stroke-width="1.1"/>
<text x="495.06" y="529.18" font-size="9.50" font-weight="bold" textLength="11.31" lengthAdjust="spacingAndGlyphs">80</text>
<line x1="509.00" y1="556.52" x2="513.60" y2="556.52" stroke="#000" stroke-width="1.1"/>
<text x="495.06" y="559.84" font-size="9.50" font-weight="bold" textLength="11.31" lengthAdjust="spacingAndGlyphs">60</text>
<line x1="509.00" y1="587.18" x2="513.60" y2="587.18" stroke="#000" stroke-width="1.1"/>
<text x="495.06" y="590.50" font-size="9.50" font-weight="bold" textLength="11.31" lengthAdjust="spacingAndGlyphs">40</text>
<line x1="509.00" y1="617.84" x2="513.60" y2="617.84" stroke="#000" stroke-width="1.1"/>
<text x="495.06" y="621.16" font-size="9.50" font-weight="bold" textLength="11.31" lengthAdjust="spacingAndGlyphs">20</text>
<line x1="509.00" y1="648.50" x2="513.60" y2="648.50" stroke="#000" stroke-width="1.1"/>
<text x="500.71" y="651.82" font-size="9.50" font-weight="bold" textLength="5.65" lengthAdjust="spacingAndGlyphs">0</text>
<line x1="509.00" y1="648.50" x2="667.20" y2="648.50" stroke="#000" stroke-width="1.2"/>
<text transform="translate(479.79,633.79) rotate(-90)" x="0" y="0" font-size="13.00" font-weight="bold" textLength="124.28" lengthAdjust="spacingAndGlyphs">TNF-α (pg/mL BALF)</text>
<rect x="516.40" y="636.50" width="6.10" height="12.00" fill="url(#stripe)" stroke="#000" stroke-width="1.1"/>
<line x1="529.65" y1="511.80" x2="529.65" y2="573.70" stroke="#000" stroke-width="1.0"/>
<line x1="527.75" y1="512.30" x2="531.55" y2="512.30" stroke="#000" stroke-width="1.4"/>
<rect x="526.60" y="574.20" width="6.10" height="74.30" fill="#b4822e" stroke="#000" stroke-width="1.1"/>
<rect x="535.90" y="641.70" width="6.70" height="6.80" fill="#fff" stroke="#000" stroke-width="1.1"/>
<rect x="556.50" y="636.50" width="6.10" height="12.00" fill="url(#stripe)" stroke="#000" stroke-width="1.1"/>
<line x1="569.75" y1="595.20" x2="569.75" y2="613.40" stroke="#000" stroke-width="1.0"/>
<line x1="567.85" y1="595.70" x2="571.65" y2="595.70" stroke="#000" stroke-width="1.4"/>
<rect x="566.70" y="613.90" width="6.10" height="34.60" fill="#b4822e" stroke="#000" stroke-width="1.1"/>
<rect x="576.30" y="642.90" width="6.70" height="5.60" fill="#fff" stroke="#000" stroke-width="1.1"/>
<rect x="597.70" y="642.60" width="6.10" height="5.90" fill="url(#stripe)" stroke="#000" stroke-width="1.1"/>
<rect x="607.90" y="641.30" width="6.10" height="7.20" fill="#b4822e" stroke="#000" stroke-width="1.1"/>
<rect x="617.30" y="643.60" width="6.70" height="4.90" fill="#fff" stroke="#000" stroke-width="1.1"/>
<rect x="638.00" y="641.70" width="6.10" height="6.80" fill="url(#stripe)" stroke="#000" stroke-width="1.1"/>
<rect x="647.90" y="641.70" width="6.10" height="6.80" fill="#b4822e" stroke="#000" stroke-width="1.1"/>
<rect x="657.80" y="643.80" width="6.70" height="4.70" fill="#fff" stroke="#000" stroke-width="1.1"/>
<text x="477.34" y="667.40" font-size="12.20" font-weight="bold" textLength="22.26" lengthAdjust="spacingAndGlyphs">Pen</text>
<line x1="515.50" y1="665.40" x2="519.90" y2="665.40" stroke="#1a1a1a" stroke-width="1.4"/>
<line x1="525.65" y1="665.40" x2="530.05" y2="665.40" stroke="#1a1a1a" stroke-width="1.4"/>
<line x1="535.80" y1="665.40" x2="540.20" y2="665.40" stroke="#1a1a1a" stroke-width="1.4"/>
<line x1="555.80" y1="663.00" x2="563.40" y2="663.00" stroke="#000" stroke-width="1.35"/>
<line x1="559.60" y1="659.40" x2="559.60" y2="666.60" stroke="#000" stroke-width="1.35"/>
<line x1="565.10" y1="663.00" x2="572.70" y2="663.00" stroke="#000" stroke-width="1.35"/>
<line x1="568.90" y1="659.40" x2="568.90" y2="666.60" stroke="#000" stroke-width="1.35"/>
<line x1="574.40" y1="663.00" x2="582.00" y2="663.00" stroke="#000" stroke-width="1.35"/>
<line x1="578.20" y1="659.40" x2="578.20" y2="666.60" stroke="#000" stroke-width="1.35"/>
<line x1="596.50" y1="665.40" x2="600.90" y2="665.40" stroke="#1a1a1a" stroke-width="1.4"/>
<line x1="606.85" y1="665.40" x2="611.25" y2="665.40" stroke="#1a1a1a" stroke-width="1.4"/>
<line x1="617.20" y1="665.40" x2="621.60" y2="665.40" stroke="#1a1a1a" stroke-width="1.4"/>
<line x1="636.80" y1="663.00" x2="644.40" y2="663.00" stroke="#000" stroke-width="1.35"/>
<line x1="640.60" y1="659.40" x2="640.60" y2="666.60" stroke="#000" stroke-width="1.35"/>
<line x1="646.60" y1="663.00" x2="654.20" y2="663.00" stroke="#000" stroke-width="1.35"/>
<line x1="650.40" y1="659.40" x2="650.40" y2="666.60" stroke="#000" stroke-width="1.35"/>
<line x1="656.40" y1="663.00" x2="664.00" y2="663.00" stroke="#000" stroke-width="1.35"/>
<line x1="660.20" y1="659.40" x2="660.20" y2="666.60" stroke="#000" stroke-width="1.35"/>
<rect x="62.9" y="693.9" width="21.5" height="7.5" fill="url(#stripeL)" stroke="#000" stroke-width="1.1"/>
<text x="95.03" y="701.10" font-size="13.20" font-weight="bold" textLength="78.11" lengthAdjust="spacingAndGlyphs">Rifle-Burst</text>
<rect x="191.5" y="693.7" width="20.6" height="7.8" fill="#b4822e" stroke="#000" stroke-width="1.1"/>
<text x="223.04" y="701.10" font-size="13.20" font-weight="bold" textLength="86.63" lengthAdjust="spacingAndGlyphs">Cu Particles</text>
<rect x="327.9" y="693.5" width="20.5" height="8.0" fill="#fff" stroke="#000" stroke-width="1.1"/>
<text x="360.31" y="701.10" font-size="13.20" font-weight="bold" textLength="45.06" lengthAdjust="spacingAndGlyphs">Saline</text>
<text x="423.59" y="701.10" font-size="13.20" font-weight="bold" textLength="138.82" lengthAdjust="spacingAndGlyphs"># vs. Saline +/- Pen</text>
<text x="580.60" y="701.10" font-size="13.20" font-weight="bold" textLength="73.91" lengthAdjust="spacingAndGlyphs">* vs. +Pen</text>
</svg></body></html>
